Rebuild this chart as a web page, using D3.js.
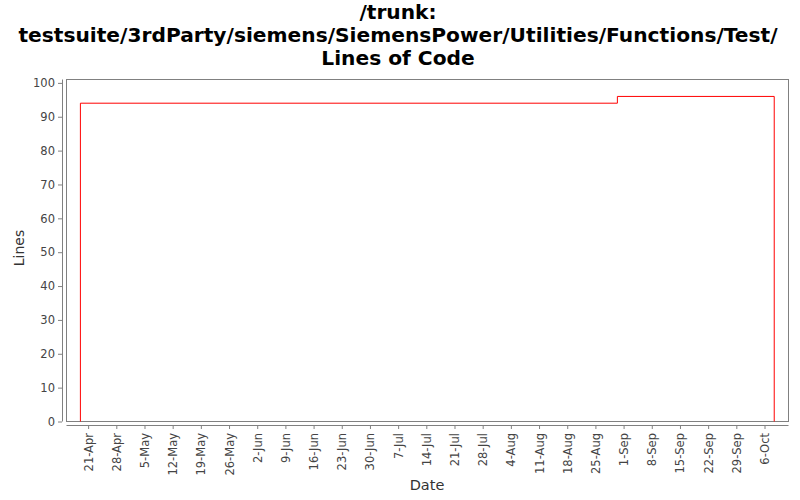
<!DOCTYPE html>
<html>
<head>
<meta charset="utf-8">
<script src="https://cdn.jsdelivr.net/npm/d3@7"></script>
<style>
  body { margin: 0; background: #fff; }
  text { font-family: "DejaVu Sans", sans-serif; }
</style>
</head>
<body>
<div id="chart"></div>
<script>
const titleLines = ['/trunk:', 'testsuite/3rdParty/siemens/SiemensPower/Utilities/Functions/Test/', 'Lines of Code'];
const dates = ['2008-04-19 02:00', '2008-04-19 02:00', '2008-08-30 11:00', '2008-10-08 10:00', '2008-10-08 10:00'];
const lines = [0, 94, 96, 96, 0];
const yTicks = [0, 10, 20, 30, 40, 50, 60, 70, 80, 90, 100];
const xTicks = ['2008-04-21', '2008-04-28', '2008-05-05', '2008-05-12', '2008-05-19', '2008-05-26',
  '2008-06-02', '2008-06-09', '2008-06-16', '2008-06-23', '2008-06-30', '2008-07-07', '2008-07-14',
  '2008-07-21', '2008-07-28', '2008-08-04', '2008-08-11', '2008-08-18', '2008-08-25', '2008-09-01',
  '2008-09-08', '2008-09-15', '2008-09-22', '2008-09-29', '2008-10-06'];

const W = 800, H = 500;
const pLeft = 66.5, pRight = 788.5, pTop = 79.5, pBottom = 421.5;
const parseDay = d3.utcParse('%Y-%m-%d');
const parseTime = d3.utcParse('%Y-%m-%d %H:%M');
const day = 86400000;
const t0 = parseDay('2008-04-21').getTime();

const svg = d3.select('#chart').append('svg')
  .attr('width', W).attr('height', H);

// title
svg.append('g').selectAll('text')
  .data(titleLines)
  .enter().append('text')
  .attr('x', 398)
  .attr('y', (d, i) => 19 + i * 23)
  .attr('text-anchor', 'middle')
  .attr('font-size', 20.2)
  .attr('font-weight', 'bold')
  .attr('fill', '#000')
  .text(d => d);

const x = d3.scaleUtc()
  .domain([new Date(t0 - 5.37 * day), new Date(t0 + 173.96 * day)])
  .range([pLeft, pRight]);
const y = d3.scaleLinear()
  .domain([0, 101])
  .range([pBottom, pTop]);

// plot frame
svg.append('rect')
  .attr('x', pLeft).attr('y', pTop)
  .attr('width', pRight - pLeft).attr('height', pBottom - pTop)
  .attr('fill', '#fff').attr('stroke', '#808080').attr('stroke-width', 1);

// y axis
const gy = svg.append('g')
  .attr('transform', 'translate(62,0)')
  .call(d3.axisLeft(y).tickValues(yTicks).tickSize(4).tickPadding(3));
gy.select('.domain').attr('stroke', '#808080').attr('d', `M0.5,${pTop}V${pBottom}`);
gy.selectAll('.tick line').attr('stroke', '#808080');
gy.selectAll('.tick text').attr('fill', '#444').attr('font-size', 11.5).attr('font-family', 'DejaVu Sans');

// x axis
const gx = svg.append('g')
  .attr('transform', 'translate(0,425)')
  .call(d3.axisBottom(x).tickValues(xTicks.map(parseDay)).tickSize(4).tickFormat(d3.utcFormat('%-d-%b')));
gx.select('.domain').attr('stroke', '#808080').attr('d', `M${pLeft},0.5H${pRight}`);
gx.selectAll('.tick line').attr('stroke', '#808080');
gx.selectAll('.tick text')
  .attr('fill', '#444').attr('font-size', 11.5).attr('font-family', 'DejaVu Sans')
  .attr('transform', 'rotate(-90)')
  .attr('text-anchor', 'end')
  .attr('x', -8).attr('y', 0).attr('dy', '0.35em');

// axis titles
svg.append('text')
  .attr('transform', 'translate(24,248) rotate(-90)')
  .attr('text-anchor', 'middle')
  .attr('font-size', 14)
  .attr('fill', '#333')
  .text('Lines');
svg.append('text')
  .attr('x', 427)
  .attr('y', 490)
  .attr('text-anchor', 'middle')
  .attr('font-size', 14.5)
  .attr('fill', '#333')
  .text('Date');

// series
const data = dates.map((d, i) => ({date: parseTime(d), v: lines[i]}));
const line = d3.line()
  .x(d => x(d.date))
  .y(d => y(d.v))
  .curve(d3.curveStepAfter);
svg.append('path')
  .datum(data)
  .attr('fill', 'none')
  .attr('stroke', '#ff0000')
  .attr('stroke-width', 1)
  .attr('d', line);
</script>
</body>
</html>
